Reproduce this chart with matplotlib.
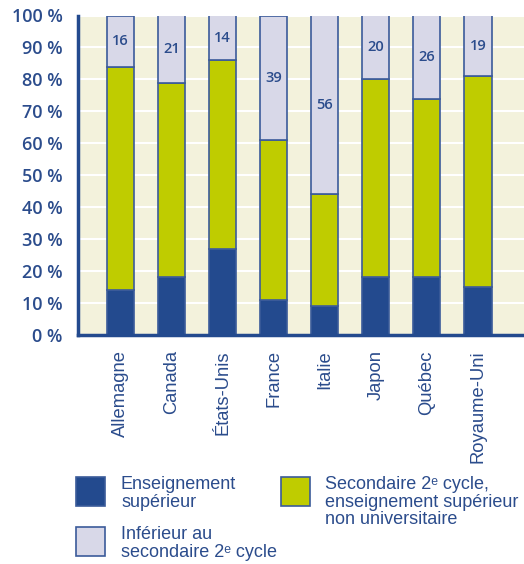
import matplotlib
matplotlib.use("Agg")
import matplotlib.pyplot as plt
from matplotlib.patches import Rectangle
import numpy as np

categories = ["Allemagne", "Canada", "États-Unis", "France", "Italie", "Japon", "Québec", "Royaume-Uni"]
superieur = [14, 18, 27, 11, 9, 18, 18, 15]
secondaire = [70, 61, 59, 50, 35, 62, 56, 66]
inferieur = [16, 21, 14, 39, 56, 20, 26, 19]
yticks = [0, 10, 20, 30, 40, 50, 60, 70, 80, 90, 100]
ytick_labels = [f"{v} %" for v in yticks]
legend_labels = ["Enseignement\nsupérieur",
                 "Secondaire 2ᵉ cycle,\nenseignement supérieur\nnon universitaire",
                 "Inférieur au\nsecondaire 2ᵉ cycle"]

C_BLUE = "#234a8e"
C_GREEN = "#bfcc00"
C_LAV = "#d8d8e8"
C_EDGE = "#3b5b9a"
C_TEXT = "#2b4c8c"
C_BG = "#f3f2dc"

plt.rcParams["font.family"] = ["Liberation Sans", "DejaVu Sans"]

W, H = 524, 564
fig = plt.figure(figsize=(W / 100, H / 100), dpi=100)
ax = fig.add_axes([78 / W, 1 - 335 / H, 1 - 78 / W, (335 - 15.5) / H])
ax.set_facecolor(C_BG)

x = np.arange(len(categories))
bw = 0.53
sup = np.array(superieur)
sec = np.array(secondaire)
inf = np.array(inferieur)
ax.bar(x, sup, bw, color=C_BLUE, edgecolor=C_EDGE, linewidth=1.2, zorder=3)
ax.bar(x, sec, bw, bottom=sup, color=C_GREEN, edgecolor=C_EDGE, linewidth=1.2, zorder=3)
ax.bar(x, inf, bw, bottom=sup + sec, color=C_LAV, edgecolor=C_EDGE, linewidth=1.2, zorder=3)
for xi, b, v in zip(x, sup + sec, inf):
    ax.text(xi, b + v / 2, str(v), ha="center", va="center", fontsize=10.5,
            color=C_TEXT, family=["Open Sans", "DejaVu Sans"], fontweight="semibold", zorder=4)

ax.set_xlim(-0.83, 7.9)
ax.set_ylim(0, 100)
ax.set_yticks(yticks)
ax.set_yticklabels(ytick_labels, fontsize=13, color=C_TEXT,
                   family=["Open Sans", "DejaVu Sans"], fontweight="semibold")
ax.set_xticks(x)
ax.set_xticklabels(categories, rotation=90, fontsize=13.2, color=C_TEXT, va="top", ha="center")
ax.tick_params(axis="y", length=0, pad=11)
ax.tick_params(axis="x", length=0, pad=11)
ax.yaxis.grid(True, color="white", linewidth=1.5, zorder=0)
ax.set_axisbelow(True)
for s in ["top", "right"]:
    ax.spines[s].set_visible(False)
for s in ["left", "bottom"]:
    ax.spines[s].set_color(C_BLUE)
    ax.spines[s].set_linewidth(2.5)
    ax.spines[s].set_zorder(5)

# legend
def fx(px):
    return px / W

def fy(py):
    return 1 - py / H

sq = 29
legend_items = [
    (76, 477, C_BLUE, legend_labels[0], 121),
    (281, 477, C_GREEN, legend_labels[1], 325),
    (76, 527, C_LAV, legend_labels[2], 121),
]
for px, py, col, lab, tx in legend_items:
    fig.add_artist(Rectangle((fx(px), fy(py + sq)), sq / W, sq / H, transform=fig.transFigure,
                             facecolor=col, edgecolor=C_EDGE, linewidth=1.2))
    fig.text(fx(tx), fy(py - 1), lab, ha="left", va="top", fontsize=13, color=C_TEXT,
             linespacing=1.05)

fig.savefig("out.png", dpi=100)
